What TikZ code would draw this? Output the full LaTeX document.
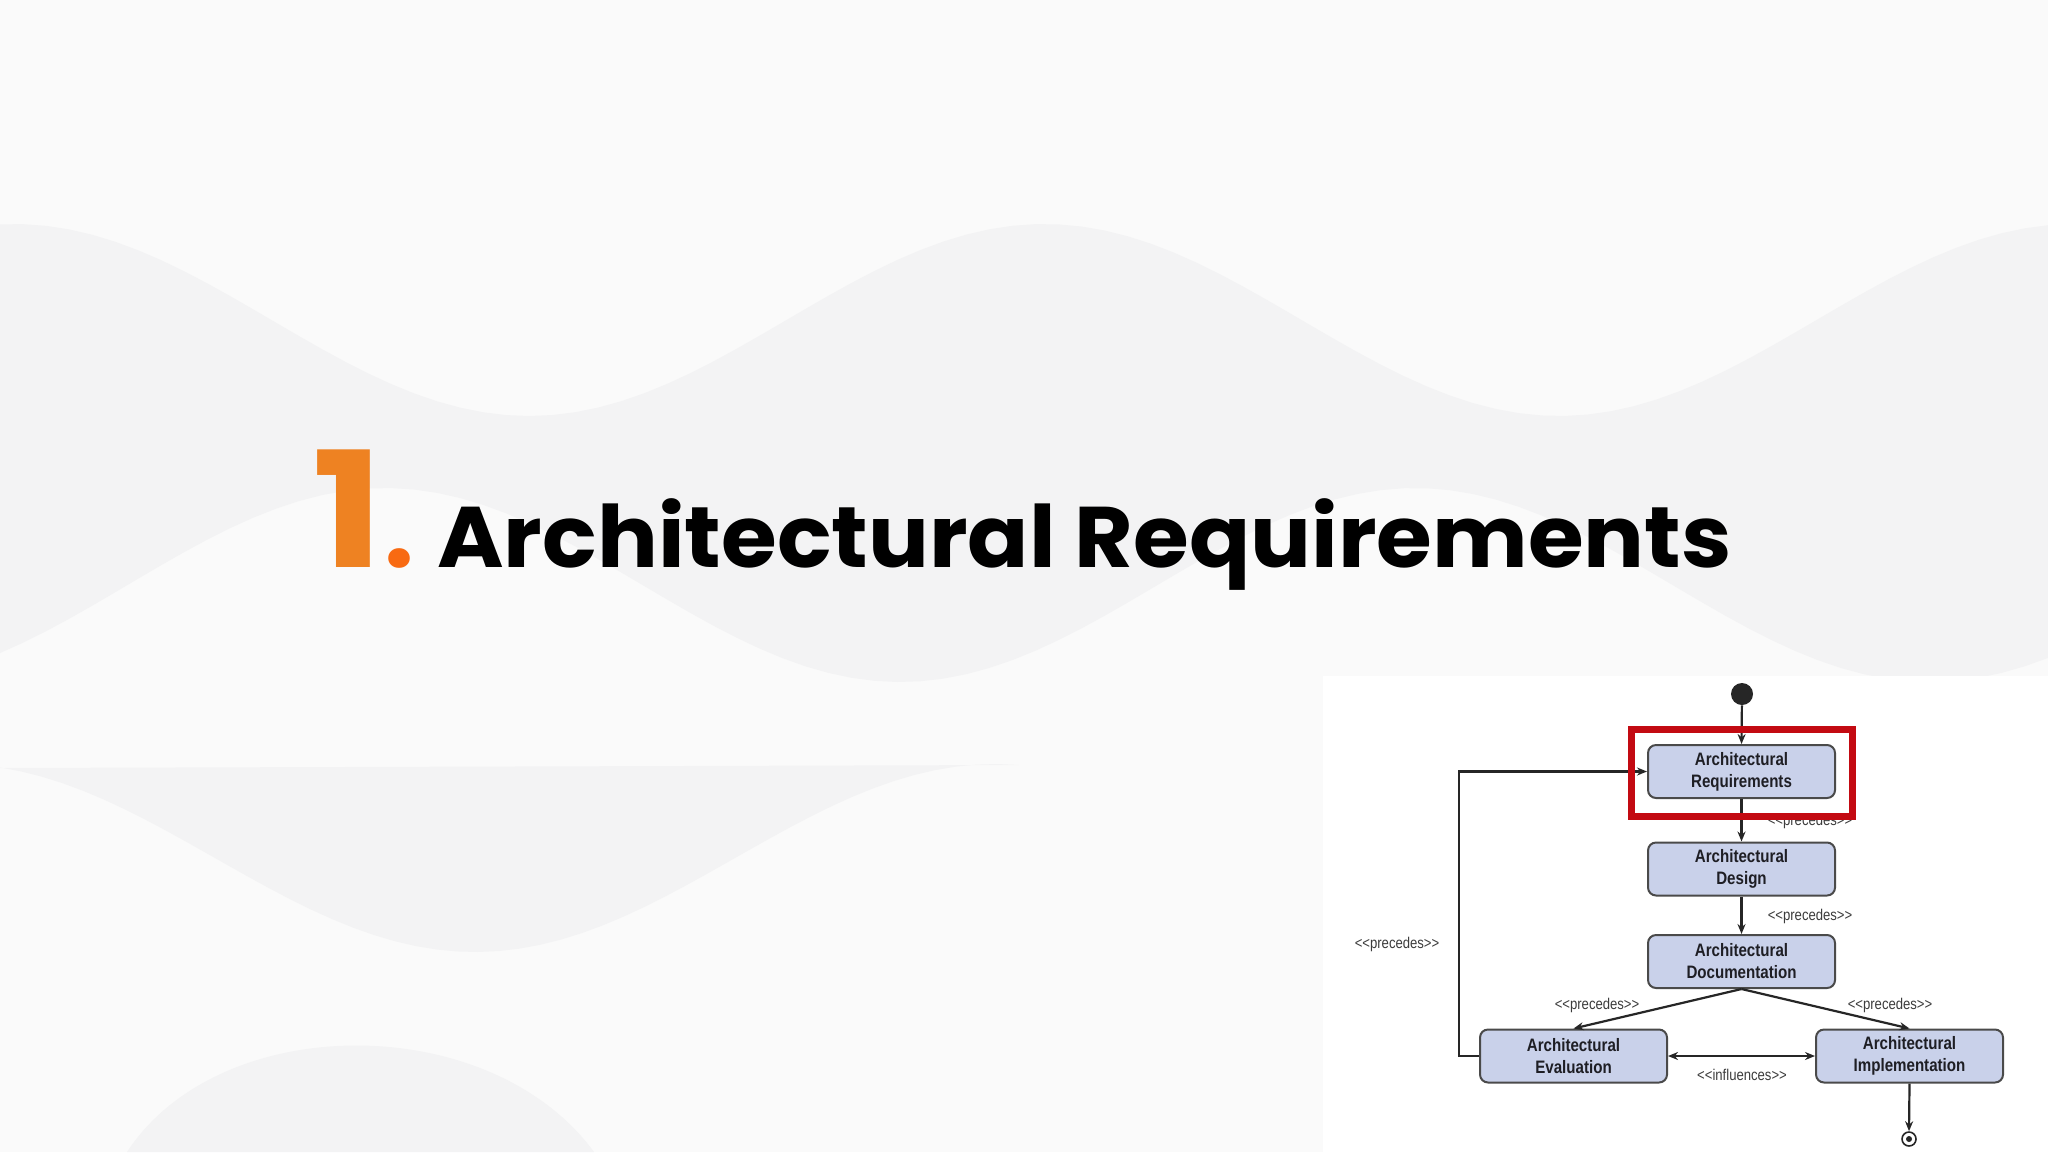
\documentclass[tikz,border=0pt]{standalone}
\usepackage{fontspec}
\setmainfont{Liberation Sans}
\newfontfamily\titlefont{Poppins}[FakeStretch=1.05]
\newfontfamily\numfont{Poppins}[FakeStretch=1.18]
\newfontfamily\dotfont{Poppins}
\newfontfamily\boxfont{Liberation Sans}[FakeStretch=0.84]
\usetikzlibrary{arrows.meta}
\definecolor{bgcol}{HTML}{FAFAFA}
\definecolor{wavedark}{HTML}{F3F3F4}
\definecolor{boxfill}{HTML}{C9D1EA}
\definecolor{boxline}{HTML}{4A4A4A}
\definecolor{txtcol}{HTML}{1E1E24}
\definecolor{lblcol}{HTML}{3C3C3C}
\definecolor{redc}{HTML}{C30A12}
\definecolor{orone}{HTML}{EE8222}
\definecolor{ortwo}{HTML}{F86A12}
\newcommand\stl{<\kern0pt<}
\newcommand\stg{>\kern0pt>}
\tikzset{
  abox/.style={draw=boxline, fill=boxfill, line width=1pt, rounded corners=4pt,
    minimum width=93.5pt, minimum height=26.5pt, inner sep=0pt, align=center,
    text=txtcol, font=\boxfont\bfseries\fontsize{9}{11}\selectfont},
  lbl/.style={inner sep=0pt, text=lblcol, font=\boxfont\fontsize{7.8}{8}\selectfont},
  conn/.style={draw=black!85, line width=1.1pt, -{Stealth[length=5pt,width=4pt]}}
}
\begin{document}
\begin{tikzpicture}[x=0.5pt,y=-0.5pt]
\useasboundingbox (0,0) rectangle (2048,1152);
\fill[bgcol] (0,0) rectangle (2048,1152);
% faint background waves
\fill[wavedark] plot[domain=0:2048,samples=90] (\x,{320-96*cos(0.34951*(\x-1044))})
  -- plot[domain=2048:0,samples=90] (\x,{585+97*cos(0.34951*(\x-900))}) -- cycle;
\fill[wavedark] (0,768) -- (1018,765)
  -- plot[domain=1018:0,samples=50] (\x,{858+94*cos(0.34615*(\x-475))}) -- cycle;
\fill[wavedark] (127,1152) .. controls (220,1010) and (490,1010) .. (594,1152) -- cycle;
% image panel
\fill[white] (1323,676) rectangle (2048,1152);

% title
\node[anchor=base west, inner sep=0pt, text=orone, font=\numfont\bfseries\fontsize{80.6}{80}\selectfont] (num) at (312.5,567) {1};
\node[anchor=base west, inner sep=0pt, text=ortwo, font=\dotfont\bfseries\fontsize{53}{53}\selectfont] (dot) at (384,567) {.};
\node[anchor=base west, inner sep=0pt, text=black, font=\titlefont\bfseries\fontsize{43}{43}\selectfont] (title) at (437,567) {Architectural Requirements};

% diagram
\node[circle, fill=black!85, minimum size=11pt, inner sep=0pt] (start) at (1742,694) {};
\node[abox] (req) at (1741.5,771.5) {Architectural\\Requirements};
\node[abox] (des) at (1741.5,869) {Architectural\\Design};
\node[abox] (doc) at (1741.5,961.5) {Architectural\\Documentation};
\node[abox] (eva) at (1573.5,1056) {Architectural\\Evaluation};
\node[abox] (imp) at (1909.5,1056) {Architectural\\Implementation};
\node[circle, draw=black!85, line width=0.8pt, minimum size=7pt, inner sep=0pt] (end) at (1909,1139) {};
\fill[black!85] (end.center) circle[radius=3];

\draw[conn] (start) -- (req.north);
\draw[conn] (req) -- (des);
\draw[conn] (des) -- (doc);
\draw[conn] (doc.south) -- (eva.north);
\draw[conn] (doc.south) -- (imp.north);
\draw[conn, {Stealth[length=5pt,width=4pt]}-{Stealth[length=5pt,width=4pt]}] (eva.east) -- (imp.west);
\draw[conn] (eva.west) -- ++(-20,0) |- (req.west);
\draw[conn] (imp.south) -- (end.north);

\node[lbl] (l1) at (1810,821) {\stl precedes\stg};
\node[lbl] (l2) at (1810,916) {\stl precedes\stg};
\node[lbl] (l3) at (1397,944) {\stl precedes\stg};
\node[lbl] (l4) at (1597,1005) {\stl precedes\stg};
\node[lbl] (l5) at (1890,1005) {\stl precedes\stg};
\node[lbl] (l6) at (1742,1075) {\stl influences\stg};

\node[draw=redc, line width=3.5pt, minimum width=110.5pt, minimum height=43.5pt, inner sep=0pt] (hl) at (1742,773) {};
\end{tikzpicture}
\end{document}
